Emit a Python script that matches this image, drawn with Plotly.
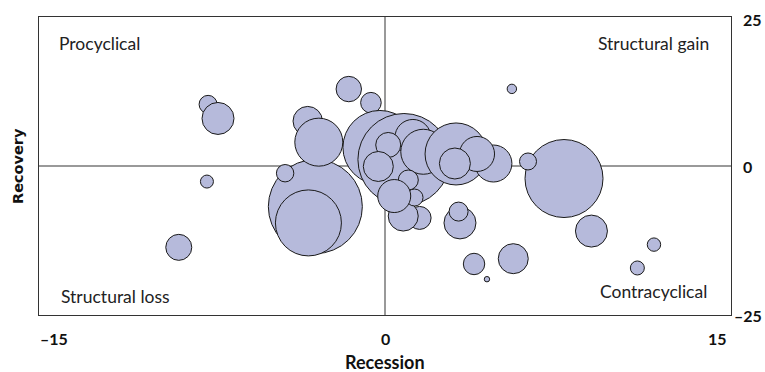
import plotly.graph_objects as go

# Bubble data (draw order): recession change (x), recovery change (y), bubble size
recession = [7.76, -3.02, -3.32, -4.33, -7.67, -7.24, -3.35, -2.87, -1.57, -0.61,
             -0.22, 0.82, 1.21, 1.66, 0.14, -0.29, 1.50, 0.79, 1.01, 1.28,
             0.40, 3.08, 4.70, 3.99, 3.03, 6.20, 8.95, -7.72, -8.94, 5.50,
             11.66, 10.94, 3.25, 3.19, 3.86, 4.42, 5.56]
recovery = [-2.10, -6.81, -9.55, -1.21, 10.34, 7.98, 7.53, 4.00, 12.91, 10.62,
            3.11, 1.09, 4.79, 2.39, 3.53, -0.08, -8.71, -8.40, -2.35, -5.29,
            -5.04, 2.02, 0.42, 2.02, 0.42, 0.76, -10.92, -2.61, -13.65, 12.94,
            -13.19, -17.11, -9.55, -7.65, -16.44, -18.99, -15.55]
size = [78, 94, 66, 17.4, 18, 32, 29.4, 48, 25.4, 20.6,
        74, 92, 36, 45, 25, 30, 23, 30, 20, 17,
        33, 62, 37, 35, 31, 17, 32, 13, 26, 9.4,
        13.4, 14, 32, 19, 21.4, 5.4, 30]

x_ticks = [-15, 0, 15]
x_tick_labels = ["\u201315", "0", "15"]
y_ticks = [25, 0, -25]
y_tick_labels = ["25", "0", "\u201325"]
quadrant_labels = ["Procyclical", "Structural gain", "Structural loss", "Contracyclical"]

FONT = "Lato, 'Open Sans', sans-serif"

fig = go.Figure()
fig.add_trace(go.Scatter(
    x=recession, y=recovery, mode="markers",
    marker=dict(size=size, sizemode="diameter", sizeref=1,
                color="#b6badb", opacity=1,
                line=dict(color="#1a1a1a", width=1)),
    hoverinfo="x+y", showlegend=False,
))

shapes = [
    dict(type="line", xref="x", yref="paper", x0=0, x1=0, y0=0, y1=1,
         line=dict(color="#777777", width=1.5), layer="below"),
    dict(type="line", xref="paper", yref="y", x0=0, x1=1, y0=0, y1=0,
         line=dict(color="#777777", width=1.5), layer="below"),
]

annotations = []
# x tick labels
anchors = ["left", "center", "right"]
for v, t, a in zip(x_ticks, x_tick_labels, anchors):
    annotations.append(dict(x=v, y=0, xref="x", yref="paper", text="<b>" + t + "</b>",
                            showarrow=False, xanchor=a, yanchor="top", yshift=-12,
                            xshift=(-1 if a == "left" else (-2 if a == "right" else 0)),
                            font=dict(family=FONT, size=16, color="#111")))
# y tick labels (right side)
for v, t in zip(y_ticks, y_tick_labels):
    shift = 10 if not t.startswith("\u2013") else 1
    annotations.append(dict(x=1, y=v, xref="paper", yref="y", text="<b>" + t + "</b>",
                            showarrow=False, xanchor="left", yanchor="middle",
                            xshift=shift, yshift=(-2 if v == 25 else 0),
                            font=dict(family=FONT, size=16, color="#111")))
# quadrant labels
qpos = [(-15, 25, "left", 18, -26), (15, 25, "right", -20, -26),
        (-15, -25, "left", 20, 19), (15, -25, "right", -22, 24)]
for (qx, qy, qa, xs, ys), t in zip(qpos, quadrant_labels):
    annotations.append(dict(x=qx, y=qy, xref="x", yref="y", text=t,
                            showarrow=False, xanchor=qa, yanchor="middle",
                            xshift=xs, yshift=ys,
                            font=dict(family=FONT, size=17.5, color="#222")))
# axis titles
annotations.append(dict(x=0, y=0, xref="x", yref="paper", text="<b>Recession</b>",
                        showarrow=False, xanchor="center", yanchor="middle", yshift=-47,
                        font=dict(family=FONT, size=18, color="#111")))
annotations.append(dict(x=0, y=0, xref="paper", yref="y", text="<b>Recovery</b>",
                        showarrow=False, xanchor="center", yanchor="middle", xshift=-21,
                        textangle=-90,
                        font=dict(family="'DejaVu Sans', Verdana, sans-serif",
                                  size=14.5, color="#111")))

fig.update_layout(
    width=765, height=372,
    margin=dict(l=39, r=34, t=17, b=57),
    plot_bgcolor="white", paper_bgcolor="white",
    xaxis=dict(range=[-15, 15], showgrid=False, zeroline=False, showticklabels=False,
               showline=True, linecolor="#333", linewidth=1, mirror=True, ticks=""),
    yaxis=dict(range=[-25, 25], showgrid=False, zeroline=False, showticklabels=False,
               showline=True, linecolor="#333", linewidth=1, mirror=True, ticks=""),
    shapes=shapes, annotations=annotations,
    font=dict(family=FONT),
)

fig.write_html(
    "out.html",
    config={"displayModeBar": False},
    post_script="document.body.style.margin='0';document.body.style.overflow='hidden';",
)
